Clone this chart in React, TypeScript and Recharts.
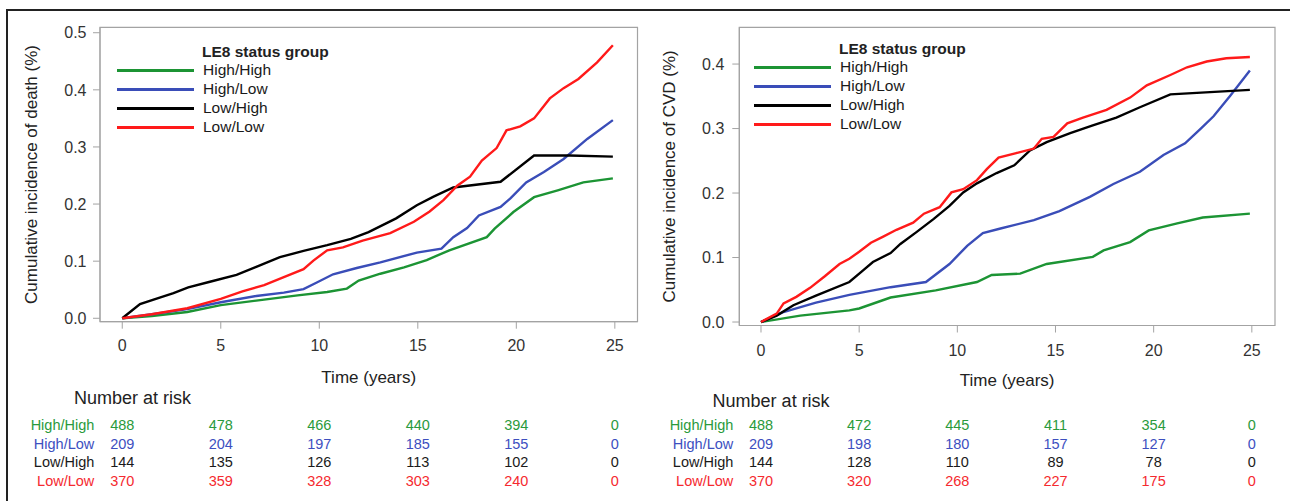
import React from 'react';
import { LineChart, Line, XAxis, YAxis, ReferenceArea } from 'recharts';

type Pt = [number, number];

const GROUPS = ['High/High', 'High/Low', 'Low/High', 'Low/Low'];
const LINE_COLORS = ['#1c9434', '#3a4db8', '#000000', '#ff1a1a'];
const TEXT_COLORS = ['#2a9a3c', '#3d4fbf', '#1a1a1a', '#f52a2f'];
const TIME_TICKS = [0, 5, 10, 15, 20, 25];

// cumulative incidence of death, [years, value]
const deathHighHigh: Pt[] = [
  [0, 0], [1.5, 0.004], [3.3, 0.011], [5.0, 0.023], [6.8, 0.031], [8.9, 0.04], [10.4, 0.046],
  [11.4, 0.052], [12.0, 0.066], [13.1, 0.078], [14.3, 0.089], [15.45, 0.102], [16.6, 0.119],
  [18.5, 0.142], [18.9, 0.157], [19.85, 0.186], [20.9, 0.212], [22.1, 0.224], [23.4, 0.238], [24.9, 0.245],
];
const deathHighLow: Pt[] = [
  [0, 0], [1.5, 0.007], [3.3, 0.016], [5.0, 0.028], [6.8, 0.039], [8.2, 0.045], [9.2, 0.051],
  [9.9, 0.063], [10.7, 0.077], [11.9, 0.088], [13.1, 0.098], [14.95, 0.115], [16.2, 0.122],
  [16.8, 0.142], [17.5, 0.158], [18.1, 0.18], [19.2, 0.195], [19.7, 0.21], [20.5, 0.238],
  [21.4, 0.256], [22.4, 0.279], [23.6, 0.314], [24.9, 0.347],
];
const deathLowHigh: Pt[] = [
  [0, 0], [0.9, 0.025], [1.9, 0.036], [2.6, 0.044], [3.35, 0.054], [4.45, 0.064], [5.8, 0.076],
  [6.8, 0.09], [8.0, 0.107], [9.2, 0.118], [10.4, 0.128], [11.6, 0.139], [12.5, 0.151],
  [13.9, 0.175], [14.95, 0.198], [15.8, 0.213], [16.8, 0.229], [19.2, 0.239], [20.9, 0.285],
  [22.7, 0.285], [24.9, 0.283],
];
const deathLowLow: Pt[] = [
  [0, 0], [1.5, 0.007], [3.3, 0.0175], [5.0, 0.034], [6.1, 0.047], [7.2, 0.058], [8.2, 0.072],
  [9.2, 0.086], [9.7, 0.101], [10.4, 0.119], [11.2, 0.124], [12.2, 0.136], [13.6, 0.149],
  [14.8, 0.169], [15.6, 0.187], [16.3, 0.207], [17.0, 0.232], [17.65, 0.248], [18.25, 0.276],
  [19.0, 0.298], [19.5, 0.329], [20.2, 0.336], [20.9, 0.35], [21.7, 0.385], [22.4, 0.403],
  [23.15, 0.419], [24.1, 0.448], [24.9, 0.478],
];

// cumulative incidence of CVD, [years, value]
const cvdHighHigh: Pt[] = [
  [0, 0], [2.0, 0.01], [4.5, 0.018], [5.0, 0.021], [6.6, 0.038], [8.9, 0.049], [11.0, 0.062],
  [11.75, 0.073], [13.2, 0.075], [14.55, 0.09], [16.9, 0.101], [17.45, 0.111], [18.8, 0.124],
  [19.75, 0.142], [21.2, 0.153], [22.5, 0.162], [24.9, 0.168],
];
const cvdHighLow: Pt[] = [
  [0, 0], [1.1, 0.015], [2.8, 0.03], [4.5, 0.042], [6.6, 0.054], [8.4, 0.062], [9.6, 0.09],
  [10.5, 0.118], [11.3, 0.138], [12.2, 0.145], [13.9, 0.158], [15.2, 0.172], [16.75, 0.194],
  [17.95, 0.214], [19.3, 0.233], [20.5, 0.259], [21.6, 0.277], [22.4, 0.3], [23.05, 0.319],
  [23.9, 0.351], [24.9, 0.39],
];
const cvdLowHigh: Pt[] = [
  [0, 0], [0.8, 0.01], [1.65, 0.026], [2.8, 0.041], [4.5, 0.062], [5.2, 0.08], [5.7, 0.093],
  [6.6, 0.107], [7.1, 0.121], [7.9, 0.139], [8.8, 0.16], [9.6, 0.18], [10.3, 0.201], [11.0, 0.215],
  [12.0, 0.231], [12.9, 0.243], [13.7, 0.266], [14.55, 0.279], [15.75, 0.293], [16.9, 0.305],
  [18.1, 0.317], [19.3, 0.333], [20.85, 0.353], [24.9, 0.36],
];
const cvdLowLow: Pt[] = [
  [0, 0], [0.8, 0.013], [1.15, 0.029], [1.8, 0.039], [2.5, 0.053], [3.25, 0.071], [4.0, 0.09],
  [4.5, 0.098], [5.0, 0.109], [5.6, 0.123], [6.2, 0.132], [6.9, 0.143], [7.75, 0.154], [8.3, 0.168],
  [9.1, 0.178], [9.7, 0.201], [10.3, 0.206], [11.0, 0.22], [11.5, 0.237], [12.1, 0.255],
  [13.0, 0.262], [13.9, 0.269], [14.3, 0.284], [14.9, 0.287], [15.6, 0.308], [16.4, 0.317],
  [17.6, 0.329], [18.8, 0.348], [19.65, 0.367], [20.85, 0.383], [21.7, 0.395], [22.7, 0.404],
  [23.7, 0.409], [24.9, 0.411],
];

const deathTicks = [0, 0.1, 0.2, 0.3, 0.4, 0.5];
const cvdTicks = [0, 0.1, 0.2, 0.3, 0.4];

// number at risk at TIME_TICKS, rows follow GROUPS
const deathAtRisk = [
  [488, 478, 466, 440, 394, 0],
  [209, 204, 197, 185, 155, 0],
  [144, 135, 126, 113, 102, 0],
  [370, 359, 328, 303, 240, 0],
];
const cvdAtRisk = [
  [488, 472, 445, 411, 354, 0],
  [209, 198, 180, 157, 127, 0],
  [144, 128, 110, 89, 78, 0],
  [370, 320, 268, 227, 175, 0],
];

const SANS = "'Liberation Sans', Arial, Helvetica, sans-serif";
const NARROW = "'Liberation Sans Narrow', 'Arial Narrow', 'Liberation Sans', Arial, sans-serif";
const FRAME = '#a3a3a3';
const ROW_Y = [425, 443.5, 462, 481];

type PanelProps = {
  left: number;
  width: number;
  plotLeft: number;
  plotRight: number;
  plotTop: number;
  plotBottom: number;
  xDomain: [number, number];
  yDomain: [number, number];
  yTicks: number[];
  yTitle: string;
  yTitleX: number;
  xTitleOffset: number;
  xTickMargin: number;
  yTickMargin: number;
  series: Pt[][];
  legendX: number;
  legendY: number;
  atRisk: number[][];
  riskTitleX: number;
  riskTitleY: number;
  rowLabelRight: number;
};

const KMPanel: React.FC<PanelProps> = (p) => {
  const H = 400;
  const xAt = (t: number) =>
    p.plotLeft + ((t - p.xDomain[0]) / (p.xDomain[1] - p.xDomain[0])) * (p.plotRight - p.plotLeft);

  return (
    <div style={{ position: 'absolute', left: p.left, top: 0, width: p.width, height: 501 }}>
      <LineChart
        width={p.width}
        height={H}
        margin={{ top: p.plotTop, right: p.width - p.plotRight, left: 0, bottom: H - p.plotBottom - 62 }}
      >
        <XAxis
          type="number"
          dataKey="t"
          domain={p.xDomain}
          ticks={TIME_TICKS}
          allowDataOverflow
          interval={0}
          height={62}
          stroke={FRAME}
          tickSize={7}
          tickMargin={p.xTickMargin}
          tick={{ fontSize: 16, fill: '#333', fontFamily: NARROW }}
          label={{
            value: 'Time (years)',
            position: 'insideBottom',
            offset: p.xTitleOffset,
            style: { fontSize: 17, fill: '#222', fontFamily: SANS },
          }}
        />
        <YAxis
          type="number"
          domain={p.yDomain}
          ticks={p.yTicks}
          allowDataOverflow
          interval={0}
          width={p.plotLeft}
          stroke={FRAME}
          tickSize={7}
          tickMargin={p.yTickMargin}
          tickFormatter={(v: number) => v.toFixed(1)}
          tick={{ fontSize: 16, fill: '#333', fontFamily: NARROW }}
          label={{
            value: p.yTitle,
            angle: -90,
            position: 'insideLeft',
            offset: p.yTitleX,
            style: { fontSize: 17, fill: '#222', fontFamily: SANS, textAnchor: 'middle' },
          }}
        />
        <ReferenceArea
          x1={p.xDomain[0]}
          x2={p.xDomain[1]}
          y1={p.yDomain[0]}
          y2={p.yDomain[1]}
          fill="none"
          stroke={FRAME}
          strokeWidth={1.2}
          ifOverflow="visible"
        />
        {p.series.map((s, i) => (
          <Line
            key={GROUPS[i]}
            data={s.map(([t, v]) => ({ t, v }))}
            dataKey="v"
            type="linear"
            dot={false}
            stroke={LINE_COLORS[i]}
            strokeWidth={2.4}
            isAnimationActive={false}
          />
        ))}
      </LineChart>

      {/* legend inside the plot box */}
      <div
        style={{
          position: 'absolute',
          left: p.legendX + 85,
          top: p.legendY - 10,
          height: 20,
          lineHeight: '20px',
          fontFamily: SANS,
          fontWeight: 'bold',
          fontSize: 15.5,
          color: '#222',
          whiteSpace: 'nowrap',
        }}
      >
        LE8 status group
      </div>
      {GROUPS.map((g, i) => {
        const cy = p.legendY + 18 + i * 19;
        return (
          <React.Fragment key={g}>
            <div
              style={{
                position: 'absolute',
                left: p.legendX,
                top: cy - 1.5,
                width: 77,
                height: 3,
                background: LINE_COLORS[i],
              }}
            />
            <div
              style={{
                position: 'absolute',
                left: p.legendX + 86,
                top: cy - 10,
                height: 20,
                lineHeight: '20px',
                fontFamily: SANS,
                fontSize: 15.5,
                color: '#1a1a1a',
                whiteSpace: 'nowrap',
              }}
            >
              {g}
            </div>
          </React.Fragment>
        );
      })}

      {/* number at risk table */}
      <div
        style={{
          position: 'absolute',
          left: p.riskTitleX,
          top: p.riskTitleY - 11,
          height: 22,
          lineHeight: '22px',
          fontFamily: SANS,
          fontSize: 18,
          color: '#222',
          whiteSpace: 'nowrap',
        }}
      >
        Number at risk
      </div>
      {GROUPS.map((g, i) => (
        <React.Fragment key={g}>
          <div
            style={{
              position: 'absolute',
              left: p.rowLabelRight - 100,
              width: 100,
              textAlign: 'right',
              top: ROW_Y[i] - 9,
              height: 18,
              lineHeight: '18px',
              fontFamily: SANS,
              fontSize: 14.5,
              color: TEXT_COLORS[i],
            }}
          >
            {g}
          </div>
          {p.atRisk[i].map((n, j) => (
            <div
              key={j}
              style={{
                position: 'absolute',
                left: xAt(TIME_TICKS[j]) - 30,
                width: 60,
                textAlign: 'center',
                top: ROW_Y[i] - 9,
                height: 18,
                lineHeight: '18px',
                fontFamily: SANS,
                fontSize: 14.5,
                color: TEXT_COLORS[i],
              }}
            >
              {n}
            </div>
          ))}
        </React.Fragment>
      ))}
    </div>
  );
};

export default function App() {
  return (
    <div
      style={{
        position: 'absolute',
        left: 0,
        top: 0,
        width: 1290,
        height: 501,
        background: '#fff',
        overflow: 'hidden',
      }}
    >
      <div
        style={{
          position: 'absolute',
          left: 6,
          top: 9,
          width: 1300,
          height: 520,
          borderTop: '2px solid #222',
          borderLeft: '2px solid #222',
        }}
      />
      <KMPanel
        left={0}
        width={660}
        plotLeft={100}
        plotRight={637.5}
        plotTop={27.3}
        plotBottom={321.7}
        xDomain={[-1.13, 26.15]}
        yDomain={[-0.006, 0.5095]}
        yTicks={deathTicks}
        yTitle="Cumulative incidence of death (%)"
        yTitleX={31}
        xTitleOffset={0.7}
        xTickMargin={11}
        yTickMargin={6.5}
        series={[deathHighHigh, deathHighLow, deathLowHigh, deathLowLow]}
        legendX={117}
        legendY={52}
        atRisk={deathAtRisk}
        riskTitleX={74}
        riskTitleY={397.5}
        rowLabelRight={94.3}
      />
      <KMPanel
        left={640}
        width={650}
        plotLeft={99.3}
        plotRight={635}
        plotTop={27.3}
        plotBottom={325.5}
        xDomain={[-1.105, 26.18]}
        yDomain={[-0.0054, 0.457]}
        yTicks={cvdTicks}
        yTitle="Cumulative incidence of CVD (%)"
        yTitleX={29}
        xTitleOffset={1.5}
        xTickMargin={12.5}
        yTickMargin={8}
        series={[cvdHighHigh, cvdHighLow, cvdLowHigh, cvdLowLow]}
        legendX={114}
        legendY={49}
        atRisk={cvdAtRisk}
        riskTitleX={72.6}
        riskTitleY={401}
        rowLabelRight={93.3}
      />
    </div>
  );
}
